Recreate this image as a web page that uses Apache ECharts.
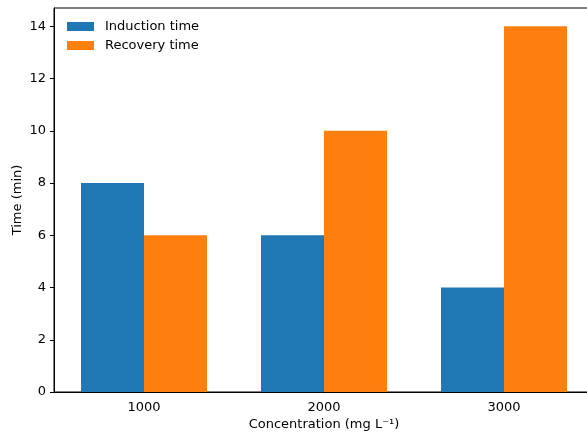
<!DOCTYPE html>
<html>
<head>
<meta charset="utf-8">
<script src="https://cdn.jsdelivr.net/npm/echarts@6/dist/echarts.min.js"></script>
<style>html,body{margin:0;padding:0;background:#fff;}#c{width:587px;height:435px;}</style>
</head>
<body>
<div id="c"></div>
<script>
const categories = ['1000', '2000', '3000'];
const inductionTime = [8, 6, 4];
const recoveryTime = [6, 10, 14];
const yTicks = [0, 2, 4, 6, 8, 10, 12, 14];

const font = 'DejaVu Sans';
const chart = echarts.init(document.getElementById('c'), null, {renderer: 'canvas'});
chart.setOption({
  animation: false,
  backgroundColor: '#fff',
  grid: {left: 54, width: 540, top: 8, height: 384, outerBoundsMode: 'none', containLabel: false,
    show: true, borderColor: '#000', borderWidth: 1, backgroundColor: 'transparent'},
  legend: {
    orient: 'vertical', left: 62, top: 15,
    itemWidth: 27, itemHeight: 9, itemGap: 6, icon: 'rect',
    textStyle: {fontFamily: font, fontSize: 13, color: '#000', padding: [0, 0, 0, 6]},
    data: ['Induction time', 'Recovery time']
  },
  xAxis: {
    type: 'category', data: categories,
    name: 'Concentration (mg L\u207B\u00B9)', nameLocation: 'middle', nameGap: 26, nameMoveOverlap: false,
    nameTextStyle: {fontFamily: font, fontSize: 13, color: '#000'},
    axisLine: {lineStyle: {color: '#000', width: 1}},
    axisTick: {alignWithLabel: true, length: 4, lineStyle: {color: '#000'}},
    axisLabel: {fontFamily: font, fontSize: 13, color: '#000', margin: 9}
  },
  yAxis: {
    type: 'value', min: 0, max: 14.7, interval: 2,
    name: 'Time (min)', nameLocation: 'middle', nameGap: 30, nameMoveOverlap: false,
    nameTextStyle: {fontFamily: font, fontSize: 13, color: '#000'},
    axisLine: {show: true, lineStyle: {color: '#000', width: 1}},
    axisTick: {show: true, length: 4, lineStyle: {color: '#000'}},
    axisLabel: {fontFamily: font, fontSize: 13, color: '#000', margin: 8, showMaxLabel: false,
      formatter: v => (yTicks.indexOf(v) >= 0 ? String(v) : '')},
    splitLine: {show: false}
  },
  series: [
    {name: 'Induction time', type: 'bar', data: inductionTime, barWidth: 63, barGap: '0%', itemStyle: {color: '#1f77b4'}},
    {name: 'Recovery time', type: 'bar', data: recoveryTime, barWidth: 63, barGap: '0%', itemStyle: {color: '#ff7f0e'}}
  ]
});
</script>
</body>
</html>
